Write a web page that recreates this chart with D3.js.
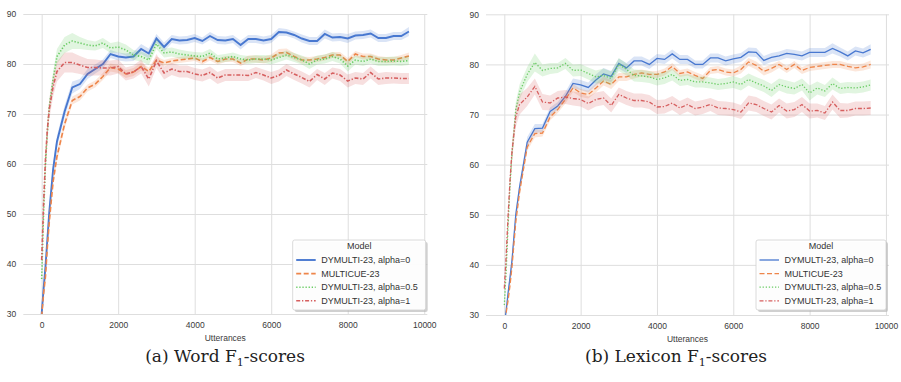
<!DOCTYPE html>
<html>
<head>
<meta charset="utf-8">
<script src="https://cdn.jsdelivr.net/npm/d3@7/dist/d3.min.js"></script>
<style>
    body { margin: 0; background: #fff; }
    svg { display: block; }
    .tick text { font-family: "Liberation Sans", Arial, sans-serif; font-size: 8.5px; fill: #3a3a3a; }
    .grid line { stroke: #dedede; stroke-width: 1; }
    .axis-label { font-family: "Liberation Sans", Arial, sans-serif; font-size: 8.5px; fill: #3a3a3a; }
    .legend text { font-family: "Liberation Sans", Arial, sans-serif; font-size: 9px; fill: #333; }
    .caption { font-family: "DejaVu Serif", serif; font-size: 17px; fill: #222; }
</style>
</head>
<body>
<svg id="chart" width="901" height="382"></svg>
<script>
// x 轴：utterances
const utterances = [0, 50, 100, 150, 200, 300, 400,
    600, 800, 1000, 1200, 1400, 1600, 1800, 2000, 2200, 2400,
    2600, 2800, 3000, 3200, 3400, 3600, 3800, 4000, 4200, 4400,
    4600, 4800, 5000, 5200, 5400, 5600, 5800, 6000, 6200, 6400,
    6600, 6800, 7000, 7200, 7400, 7600, 7800, 8000, 8200, 8400,
    8600, 8800, 9000, 9200, 9400, 9600];

const xTicks = [0, 2000, 4000, 6000, 8000, 10000];
const yTicks = [30, 40, 50, 60, 70, 80, 90];
const modelNames = ["DYMULTI-23, alpha=0", "MULTICUE-23", "DYMULTI-23, alpha=0.5", "DYMULTI-23, alpha=1"];

// (a) Word F1
const wordAlpha0 = [30.0, 35.0, 39.5, 45.0, 50.5, 59.0, 64.5,
    70.5, 75.3, 76.0, 78.0, 79.0, 80.0, 82.0, 81.5, 81.3, 81.5,
    83.0, 82.1, 85.1, 83.4, 85.0, 84.7, 84.8, 85.2, 84.6, 85.6,
    84.8, 84.7, 85.0, 83.8, 85.0, 85.0, 84.7, 85.0, 86.4, 86.3,
    85.8, 85.1, 84.6, 84.6, 86.0, 85.3, 85.4, 85.1, 85.7, 85.8,
    86.1, 85.2, 85.2, 85.6, 85.6, 86.5];
const wordMulticue = [29.5, 34.0, 37.5, 43.5, 48.5, 56.5, 61.5,
    68.0, 72.7, 73.5, 75.2, 76.0, 77.5, 79.3, 79.0, 78.0, 78.4,
    79.5, 78.5, 80.8, 80.2, 80.6, 80.8, 81.0, 81.2, 80.5, 81.3,
    80.5, 81.0, 81.0, 80.2, 81.0, 81.0, 80.8, 81.2, 82.2, 82.3,
    81.5, 80.8, 80.8, 81.0, 81.3, 81.8, 81.8, 80.5, 82.0, 81.5,
    81.5, 81.0, 80.8, 80.8, 81.2, 81.6];
const wordAlpha05 = [37.0, 50.0, 60.0, 66.5, 71.5, 77.0, 81.5,
    83.8, 84.6, 84.2, 83.8, 83.6, 84.2, 83.2, 83.4, 82.8, 81.8,
    81.5, 80.8, 84.0, 82.2, 82.4, 82.0, 81.8, 81.6, 81.5, 82.2,
    81.0, 81.2, 81.5, 81.0, 80.8, 81.0, 81.0, 80.8, 81.3, 81.8,
    81.3, 80.8, 80.0, 80.8, 81.0, 81.5, 81.0, 79.6, 80.8, 80.5,
    81.0, 80.5, 80.5, 80.6, 80.5, 80.7];
const wordAlpha1 = [40.8, 52.0, 61.0, 67.0, 71.0, 75.5, 78.5,
    80.3, 80.3, 79.8, 79.3, 79.3, 79.2, 79.2, 79.5, 78.0, 78.4,
    79.5, 77.0, 80.6, 78.2, 79.0, 78.5, 78.5, 78.0, 77.7, 78.3,
    77.2, 77.8, 77.8, 77.8, 77.7, 78.3, 77.8, 77.2, 77.7, 78.8,
    78.0, 77.3, 76.5, 77.9, 77.0, 78.2, 77.8, 76.6, 77.2, 77.0,
    78.3, 77.0, 77.2, 77.2, 77.1, 77.1];

// 置信区间半宽
const wordAlpha0Ci = [0.3, 0.6, 0.8, 1.0, 1.1, 1.2, 1.2,
    1.2, 1.2, 1.0, 1.0, 0.9, 0.9, 0.8, 0.8, 0.8, 0.9,
    1.0, 1.0, 0.9, 0.9, 0.8, 0.8, 0.8, 0.8, 0.7, 0.8,
    0.8, 0.8, 0.8, 0.9, 0.8, 0.8, 0.8, 0.8, 0.8, 0.7,
    0.7, 0.8, 0.8, 0.8, 0.9, 0.8, 0.8, 0.9, 0.8, 0.8,
    0.8, 0.8, 0.8, 0.8, 0.8, 0.9];
const wordMulticueCi = [0.3, 0.5, 0.8, 0.9, 1.0, 1.0, 1.0,
    0.9, 0.8, 0.8, 0.7, 0.7, 0.7, 0.8, 0.8, 0.8, 0.8,
    0.8, 0.8, 0.7, 0.6, 0.6, 0.6, 0.6, 0.6, 0.6, 0.6,
    0.6, 0.6, 0.6, 0.6, 0.7, 0.7, 0.7, 0.7, 0.8, 0.8,
    0.7, 0.7, 0.6, 0.6, 0.6, 0.6, 0.6, 0.7, 0.6, 0.6,
    0.6, 0.6, 0.6, 0.6, 0.6, 0.7];
const wordAlpha05Ci = [1.0, 1.5, 1.5, 1.5, 1.5, 1.5, 1.5,
    1.6, 1.6, 1.2, 1.0, 0.9, 1.0, 1.0, 1.1, 1.1, 1.0,
    1.0, 1.0, 1.0, 0.9, 0.9, 0.9, 0.8, 0.8, 0.8, 0.8,
    0.8, 0.8, 0.8, 0.8, 0.8, 0.8, 0.8, 0.9, 0.9, 0.9,
    0.9, 0.9, 1.0, 0.9, 0.9, 0.9, 0.9, 1.1, 0.9, 0.9,
    0.9, 0.9, 0.9, 0.9, 0.9, 0.9];
const wordAlpha1Ci = [1.0, 1.5, 1.8, 2.0, 2.0, 2.0, 2.0,
    2.0, 2.0, 1.8, 1.7, 1.6, 1.5, 1.5, 1.4, 1.3, 1.3,
    1.4, 1.5, 1.4, 1.3, 1.2, 1.2, 1.2, 1.2, 1.2, 1.2,
    1.2, 1.2, 1.2, 1.2, 1.1, 1.1, 1.1, 1.2, 1.2, 1.2,
    1.2, 1.2, 1.2, 1.1, 1.2, 1.1, 1.2, 1.3, 1.2, 1.2,
    1.2, 1.2, 1.2, 1.1, 1.1, 1.1];

// (b) Lexicon F1
const lexAlpha0 = [28.0, 31.0, 34.5, 37.5, 40.8, 50.0, 55.5,
    64.5, 67.2, 67.3, 70.6, 71.7, 73.6, 76.2, 75.9, 75.4, 76.9,
    78.1, 77.6, 80.2, 79.3, 80.7, 80.7, 80.0, 81.2, 81.0, 82.1,
    81.0, 81.0, 80.0, 80.0, 81.3, 81.3, 80.7, 81.1, 81.4, 82.5,
    82.4, 80.8, 81.4, 81.7, 82.2, 82.0, 81.7, 82.4, 82.4, 82.4,
    83.2, 82.5, 81.7, 82.7, 82.3, 83.0];
const lexMulticue = [27.5, 30.5, 33.0, 36.0, 39.5, 48.5, 54.5,
    63.5, 66.2, 66.3, 69.5, 71.0, 73.0, 75.3, 74.3, 74.0, 75.3,
    76.7, 76.0, 77.5, 77.5, 78.0, 78.3, 78.0, 78.0, 78.5, 79.6,
    78.2, 78.5, 77.8, 77.2, 78.8, 79.0, 78.5, 78.3, 79.0, 80.5,
    79.8, 78.6, 79.2, 80.0, 79.0, 80.0, 78.8, 79.4, 79.6, 79.8,
    80.0, 80.0, 79.6, 79.3, 79.5, 80.0];
const lexAlpha05 = [32.0, 39.0, 48.0, 56.0, 62.0, 71.0, 74.5,
    78.0, 80.4, 78.8, 79.2, 79.3, 80.2, 78.8, 78.9, 78.2, 77.5,
    77.8, 77.2, 80.0, 79.0, 77.8, 77.7, 77.5, 77.0, 77.3, 78.0,
    76.8, 77.0, 76.5, 76.5, 76.3, 76.0, 76.2, 76.5, 76.0, 77.0,
    76.3, 75.7, 74.8, 76.0, 75.5, 75.2, 76.0, 74.3, 75.3, 74.7,
    76.2, 75.2, 75.4, 75.3, 75.5, 75.9];
const lexAlpha1 = [35.3, 42.0, 50.0, 57.0, 62.5, 69.5, 72.0,
    73.5, 75.6, 72.5, 72.3, 73.3, 73.5, 73.2, 73.0, 72.2, 73.0,
    73.3, 71.8, 74.0, 73.3, 72.8, 72.8, 72.5, 71.5, 71.6, 72.3,
    71.3, 72.0, 71.2, 71.5, 72.0, 71.3, 71.2, 71.0, 70.5, 72.3,
    72.0, 71.2, 70.5, 71.8, 70.7, 71.0, 72.0, 70.7, 70.8, 70.3,
    72.5, 70.8, 70.8, 71.2, 71.2, 71.3];

const lexAlpha0Ci = [0.3, 0.5, 0.8, 0.9, 1.0, 1.0, 1.0,
    1.0, 0.9, 0.8, 0.8, 0.8, 0.9, 1.0, 1.0, 1.0, 1.1,
    1.2, 1.1, 1.0, 1.0, 0.9, 0.9, 0.9, 0.9, 0.9, 0.9,
    0.9, 0.9, 0.8, 0.8, 0.9, 0.9, 0.9, 0.9, 0.9, 0.9,
    0.9, 0.9, 0.9, 0.9, 0.9, 0.9, 0.9, 0.9, 0.9, 0.9,
    1.0, 0.9, 0.9, 0.9, 0.9, 1.0];
const lexMulticueCi = [0.3, 0.5, 0.7, 0.8, 0.8, 0.8, 0.8,
    0.8, 0.8, 0.7, 0.7, 0.7, 0.8, 0.8, 0.8, 0.8, 0.9,
    0.9, 0.9, 0.8, 0.8, 0.8, 0.7, 0.7, 0.7, 0.7, 0.7,
    0.7, 0.7, 0.7, 0.7, 0.7, 0.7, 0.7, 0.7, 0.8, 0.8,
    0.8, 0.8, 0.8, 0.7, 0.7, 0.7, 0.7, 0.7, 0.7, 0.7,
    0.7, 0.7, 0.7, 0.7, 0.7, 0.8];
const lexAlpha05Ci = [1.0, 1.5, 1.5, 1.5, 1.5, 1.5, 1.5,
    1.5, 1.8, 1.2, 1.1, 1.0, 1.1, 1.2, 1.2, 1.2, 1.3,
    1.4, 1.4, 1.3, 1.2, 1.2, 1.2, 1.2, 1.2, 1.2, 1.2,
    1.1, 1.1, 1.1, 1.1, 1.1, 1.1, 1.1, 1.2, 1.2, 1.2,
    1.2, 1.2, 1.3, 1.2, 1.3, 1.2, 1.2, 1.5, 1.3, 1.2,
    1.2, 1.1, 1.1, 1.1, 1.1, 1.1];
const lexAlpha1Ci = [1.0, 1.5, 1.8, 2.0, 2.0, 2.0, 2.0,
    1.8, 1.6, 1.6, 1.5, 1.4, 1.4, 1.4, 1.4, 1.4, 1.4,
    1.4, 1.4, 1.4, 1.4, 1.4, 1.4, 1.4, 1.4, 1.4, 1.4,
    1.4, 1.4, 1.4, 1.4, 1.3, 1.4, 1.4, 1.4, 1.4, 1.5,
    1.5, 1.5, 1.5, 1.4, 1.5, 1.5, 1.5, 1.5, 1.4, 1.4,
    1.5, 1.5, 1.4, 1.4, 1.4, 1.4];

// 颜色与线型 (seaborn muted)
const colors = ["#4878d0", "#ee854a", "#6acc64", "#d65f5f"];
const dashes = [null, "5,2.5", "1.3,1.8", "4,1.8,1.3,1.8"];

const panels = [
    {name: "word", values: [wordAlpha0, wordMulticue, wordAlpha05, wordAlpha1],
        ci: [wordAlpha0Ci, wordMulticueCi, wordAlpha05Ci, wordAlpha1Ci],
        left: 23.3, right: 427.3, top: 14, bottom: 314, lw: [1.9, 1.6, 1.6, 1.6],
        caption: "(a) Word F", legendX: 292.7, legendW: 133, center: 225},
    {name: "lex", values: [lexAlpha0, lexMulticue, lexAlpha05, lexAlpha1],
        ci: [lexAlpha0Ci, lexMulticueCi, lexAlpha05Ci, lexAlpha1Ci],
        left: 486, right: 889, top: 14.3, bottom: 315, lw: [1.3, 1.3, 1.3, 1.3],
        caption: "(b) Lexicon F", legendX: 756, legendW: 130, center: 676}
];

const svg = d3.select("#chart");

panels.forEach(function (p) {
    const x = d3.scaleLinear().domain([-480, 10080]).range([p.left, p.right]);
    const y = d3.scaleLinear().domain([30, 90]).range([p.bottom, p.top]);
    const g = svg.append("g");

    // 网格
    g.append("g")
        .attr("class", "grid")
        .attr("transform", "translate(0," + p.bottom + ")")
        .call(d3.axisBottom(x).tickValues(xTicks).tickSize(-(p.bottom - p.top)).tickFormat(""))
        .call(s => s.select(".domain").remove());
    g.append("g")
        .attr("class", "grid")
        .attr("transform", "translate(" + p.left + ",0)")
        .call(d3.axisLeft(y).tickValues(yTicks).tickSize(-(p.right - p.left)).tickFormat(""))
        .call(s => s.select(".domain").remove());

    // 坐标轴文字
    g.append("g")
        .attr("transform", "translate(0," + p.bottom + ")")
        .call(d3.axisBottom(x).tickValues(xTicks).tickSize(0).tickPadding(8).tickFormat(d3.format("d")))
        .call(s => s.select(".domain").remove());
    g.append("g")
        .attr("transform", "translate(" + p.left + ",0)")
        .call(d3.axisLeft(y).tickValues(yTicks).tickSize(0).tickPadding(7).tickFormat(d3.format("d")))
        .call(s => s.select(".domain").remove());

    g.append("text")
        .attr("class", "axis-label")
        .attr("x", (p.left + p.right) / 2)
        .attr("y", p.bottom + 26.5)
        .attr("text-anchor", "middle")
        .text("Utterances");

    // 裁剪区域
    const clipId = "clip-" + p.name;
    svg.append("clipPath").attr("id", clipId)
        .append("rect")
        .attr("x", p.left).attr("y", p.top)
        .attr("width", p.right - p.left).attr("height", p.bottom - p.top);

    const plot = g.append("g").attr("clip-path", "url(#" + clipId + ")");

    const area = d3.area()
        .x(d => x(d.u))
        .y0(d => y(d.v - d.c))
        .y1(d => y(d.v + d.c));
    const line = d3.line()
        .x(d => x(d.u))
        .y(d => y(d.v));

    p.values.forEach(function (vals, k) {
        const pts = utterances.map((u, i) => ({u: u, v: vals[i], c: p.ci[k][i]}));
        plot.append("path")
            .datum(pts)
            .attr("d", area)
            .attr("fill", colors[k])
            .attr("fill-opacity", 0.2)
            .attr("stroke", "none");
        plot.append("path")
            .datum(pts)
            .attr("d", line)
            .attr("fill", "none")
            .attr("stroke", colors[k])
            .attr("stroke-width", p.lw[k])
            .attr("stroke-dasharray", dashes[k]);
    });

    // 图例
    const lg = g.append("g").attr("class", "legend")
        .attr("transform", "translate(" + p.legendX + ",240)");
    lg.append("rect")
        .attr("x", 2).attr("y", 2)
        .attr("width", p.legendW).attr("height", 70)
        .attr("rx", 2)
        .attr("fill", "#b0b0b0").attr("opacity", 0.6);
    lg.append("rect")
        .attr("width", p.legendW).attr("height", 70)
        .attr("rx", 2)
        .attr("fill", "#fff").attr("fill-opacity", 0.95)
        .attr("stroke", "#d0d0d0").attr("stroke-width", 0.8);
    lg.append("text")
        .attr("x", p.legendW / 2).attr("y", 9.2)
        .attr("text-anchor", "middle")
        .text("Model");
    modelNames.forEach(function (name, k) {
        const cy = 20 + k * 13.6;
        lg.append("line")
            .attr("x1", 3.5).attr("x2", 23)
            .attr("y1", cy).attr("y2", cy)
            .attr("stroke", colors[k])
            .attr("stroke-width", p.lw[k])
            .attr("stroke-dasharray", dashes[k]);
        lg.append("text")
            .attr("x", 28.5).attr("y", cy + 3.2)
            .text(name);
    });

    // 图注
    const cap = svg.append("text")
        .attr("class", "caption")
        .attr("x", p.center)
        .attr("y", 362)
        .attr("text-anchor", "middle");
    cap.append("tspan").text(p.caption);
    cap.append("tspan").attr("font-size", "11px").attr("dy", 4).text("1");
    cap.append("tspan").attr("dy", -4).text("-scores");
});
</script>
</body>
</html>
